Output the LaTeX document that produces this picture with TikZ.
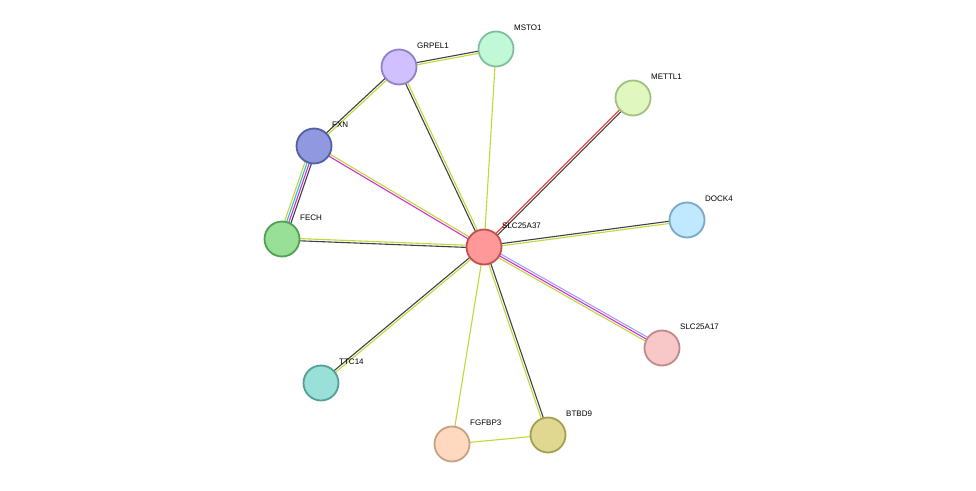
\documentclass[tikz,border=0pt]{standalone}
\usepackage{fontspec}
\setmainfont{Liberation Sans}
\usetikzlibrary{calc}
\definecolor{ey}{HTML}{C0D838}
\definecolor{ek}{HTML}{404040}
\definecolor{er}{HTML}{F03030}
\definecolor{em}{HTML}{D030D0}
\definecolor{ec}{HTML}{30B8E0}
\definecolor{el}{HTML}{A0A0FF}
\newcommand\ed[4]{%
  \foreach \cc [count=\ii] in {#4}{%
    \pgfmathsetmacro\off{(\ii-(#3+1)/2)*2.2}%
    \draw[line width=1.1pt,\cc] ($(#1)!\off pt!90:(#2)$) -- ($(#2)!\off pt!-90:(#1)$);}}
\begin{document}
\begin{tikzpicture}[x=1pt,y=-1pt,
  prot/.style={circle,minimum size=35pt,inner sep=0pt,line width=1.8pt},
  lab/.style={anchor=west,font=\fontsize{8}{9}\selectfont,inner sep=0pt}]
\useasboundingbox (0,0) rectangle (976,490);
\coordinate (cS) at (484,247);
\coordinate (cG) at (399,67);
\coordinate (cM) at (496,49);
\coordinate (cT) at (633,98);
\coordinate (cX) at (314,146);
\coordinate (cF) at (282,239);
\coordinate (cD) at (687,220);
\coordinate (cA) at (662,348);
\coordinate (cC) at (321,383);
\coordinate (cB) at (452,444);
\coordinate (cN) at (548,435);
\ed{cG}{cM}{2}{ey,ek}
\ed{cG}{cX}{2}{ek,ey}
\ed{cG}{cS}{2}{ek,ey}
\ed{cM}{cS}{1}{ey}
\ed{cT}{cS}{2}{er,ek}
\ed{cX}{cF}{4}{ey,ec,em,ek}
\ed{cX}{cS}{2}{em,ey}
\ed{cF}{cS}{2}{ek,ey}
\ed{cD}{cS}{2}{ek,ey}
\ed{cA}{cS}{3}{el,em,ey}
\ed{cC}{cS}{2}{ey,ek}
\ed{cB}{cS}{1}{ey}
\ed{cN}{cS}{2}{ek,ey}
\ed{cB}{cN}{1}{ey}
\node[prot,fill={rgb,255:red,255;green,153;blue,153},draw={rgb,255:red,192;green,80;blue,80}] (S) at (cS) {};
\node[prot,fill={rgb,255:red,208;green,192;blue,255},draw={rgb,255:red,144;green,128;blue,200}] (G) at (cG) {};
\node[prot,fill={rgb,255:red,192;green,248;blue,216},draw={rgb,255:red,128;green,192;blue,152}] (M) at (cM) {};
\node[prot,fill={rgb,255:red,224;green,248;blue,192},draw={rgb,255:red,160;green,192;blue,128}] (T) at (cT) {};
\node[prot,fill={rgb,255:red,144;green,152;blue,224},draw={rgb,255:red,80;green,96;blue,160}] (X) at (cX) {};
\node[prot,fill={rgb,255:red,152;green,224;blue,152},draw={rgb,255:red,80;green,160;blue,80}] (F) at (cF) {};
\node[prot,fill={rgb,255:red,192;green,232;blue,255},draw={rgb,255:red,120;green,168;blue,200}] (D) at (cD) {};
\node[prot,fill={rgb,255:red,248;green,200;blue,200},draw={rgb,255:red,192;green,136;blue,136}] (A) at (cA) {};
\node[prot,fill={rgb,255:red,152;green,224;blue,216},draw={rgb,255:red,80;green,160;blue,152}] (C) at (cC) {};
\node[prot,fill={rgb,255:red,255;green,216;blue,192},draw={rgb,255:red,200;green,160;blue,128}] (B) at (cB) {};
\node[prot,fill={rgb,255:red,224;green,216;blue,144},draw={rgb,255:red,160;green,160;blue,80}] (N) at (cN) {};
\node[lab] (lS) at ($(cS)+(18,-21)$) {SLC25A37};
\node[lab] (lG) at ($(cG)+(18,-21)$) {GRPEL1};
\node[lab] (lM) at ($(cM)+(18,-21)$) {MSTO1};
\node[lab] (lT) at ($(cT)+(18,-21)$) {METTL1};
\node[lab] (lX) at ($(cX)+(18,-21)$) {FXN};
\node[lab] (lF) at ($(cF)+(18,-21)$) {FECH};
\node[lab] (lD) at ($(cD)+(18,-21)$) {DOCK4};
\node[lab] (lA) at ($(cA)+(18,-21)$) {SLC25A17};
\node[lab] (lC) at ($(cC)+(18,-21)$) {TTC14};
\node[lab] (lB) at ($(cB)+(18,-21)$) {FGFBP3};
\node[lab] (lN) at ($(cN)+(18,-21)$) {BTBD9};
\end{tikzpicture}
\end{document}
